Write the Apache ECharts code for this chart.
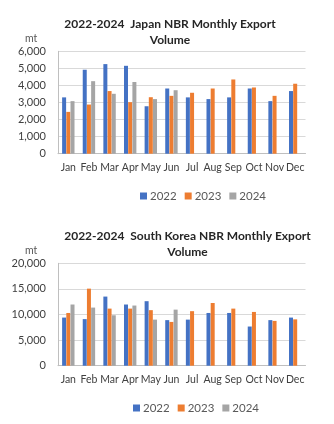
<!DOCTYPE html>
<html><head><meta charset="utf-8">
<script src="https://cdn.jsdelivr.net/npm/echarts@6/dist/echarts.min.js"></script>
<style>html,body{margin:0;padding:0;background:#fff;}#c1,#c2{position:absolute;left:0;width:334px;height:212px;}#c1{top:0}#c2{top:212px}</style>
</head><body>
<div id="c1"></div><div id="c2"></div>
<script>
var months = ['Jan','Feb','Mar','Apr','May','Jun','Jul','Aug','Sep','Oct','Nov','Dec'];
var seriesNames = ['2022','2023','2024'];
var japan2022 = [3300,4920,5250,5150,2780,3820,3300,3200,3300,3820,3080,3670];
var japan2023 = [2450,2880,3670,3020,3310,3390,3570,3820,4350,3880,3390,4100];
var japan2024 = [3080,4250,3510,4200,3200,3720,null,null,null,null,null,null];
var korea2022 = [9400,9100,13500,11950,12600,8900,9000,10300,10300,7650,8900,9400];
var korea2023 = [10300,15050,11150,11150,10850,8550,10650,12250,11150,10500,8750,9050];
var korea2024 = [11950,11350,9850,11750,9000,10950,null,null,null,null,null,null];
var japanTitle = '2022-2024  Japan NBR Monthly Export\nVolume';
var koreaTitle = '2022-2024  South Korea NBR Monthly Export\nVolume';
var japanTicks = {max:6000, interval:1000};
var koreaTicks = {max:20000, interval:5000};
var unitLabel = 'mt';

var colors = ['#4472C4','#ED7D31','#A5A5A5'];
var FONT = 'Lato, "Liberation Sans", sans-serif';

function build(el, title, titleX, data, ticks, legendLeft) {
  var chart = echarts.init(document.getElementById(el), null, {renderer:'canvas'});
  chart.setOption({
    animation:false,
    backgroundColor:'#fff',
    color:colors,
    textStyle:{fontFamily:FONT},
    title:{
      text:title, left:titleX, top:11, textAlign:'center',
      textStyle:{fontFamily:FONT, fontSize:12, fontWeight:'bold', color:'#262626', lineHeight:16}
    },
    graphic:[{type:'text', left:25, top:33, style:{text:unitLabel, fontFamily:FONT, fontSize:10.5, fill:'#595959'}}],
    legend:{
      data:seriesNames, left:legendLeft, top:185, itemWidth:7, itemHeight:7, itemGap:8,
      icon:'rect', textStyle:{fontFamily:FONT, fontSize:11.5, color:'#595959', padding:[0,0,0,-2]}
    },
    grid:{left:58, right:28.5, top:51.3, bottom:58.3},
    xAxis:{
      type:'category', data:months,
      axisLine:{lineStyle:{color:'#BFBFBF'}},
      axisTick:{alignWithLabel:true, length:4, lineStyle:{color:'#BFBFBF'}},
      axisLabel:{color:'#404040', fontSize:10.5, margin:8, interval:0}
    },
    yAxis:{
      type:'value', min:0, max:ticks.max, interval:ticks.interval,
      axisLine:{show:true, lineStyle:{color:'#BFBFBF'}},
      axisTick:{show:false},
      splitLine:{lineStyle:{color:'#D9D9D9'}},
      axisLabel:{color:'#404040', fontSize:11, margin:12,
        formatter:function(v){return v.toLocaleString('en-US');}}
    },
    series:data.map(function(d,i){
      return {name:seriesNames[i], type:'bar', data:d, barWidth:4, barGap:'5%'};
    })
  });
}
build('c1', japanTitle, 165, [japan2022, japan2023, japan2024], japanTicks, 135);
build('c2', koreaTitle, 182.5, [korea2022, korea2023, korea2024], koreaTicks, 128);
</script>
</body></html>
